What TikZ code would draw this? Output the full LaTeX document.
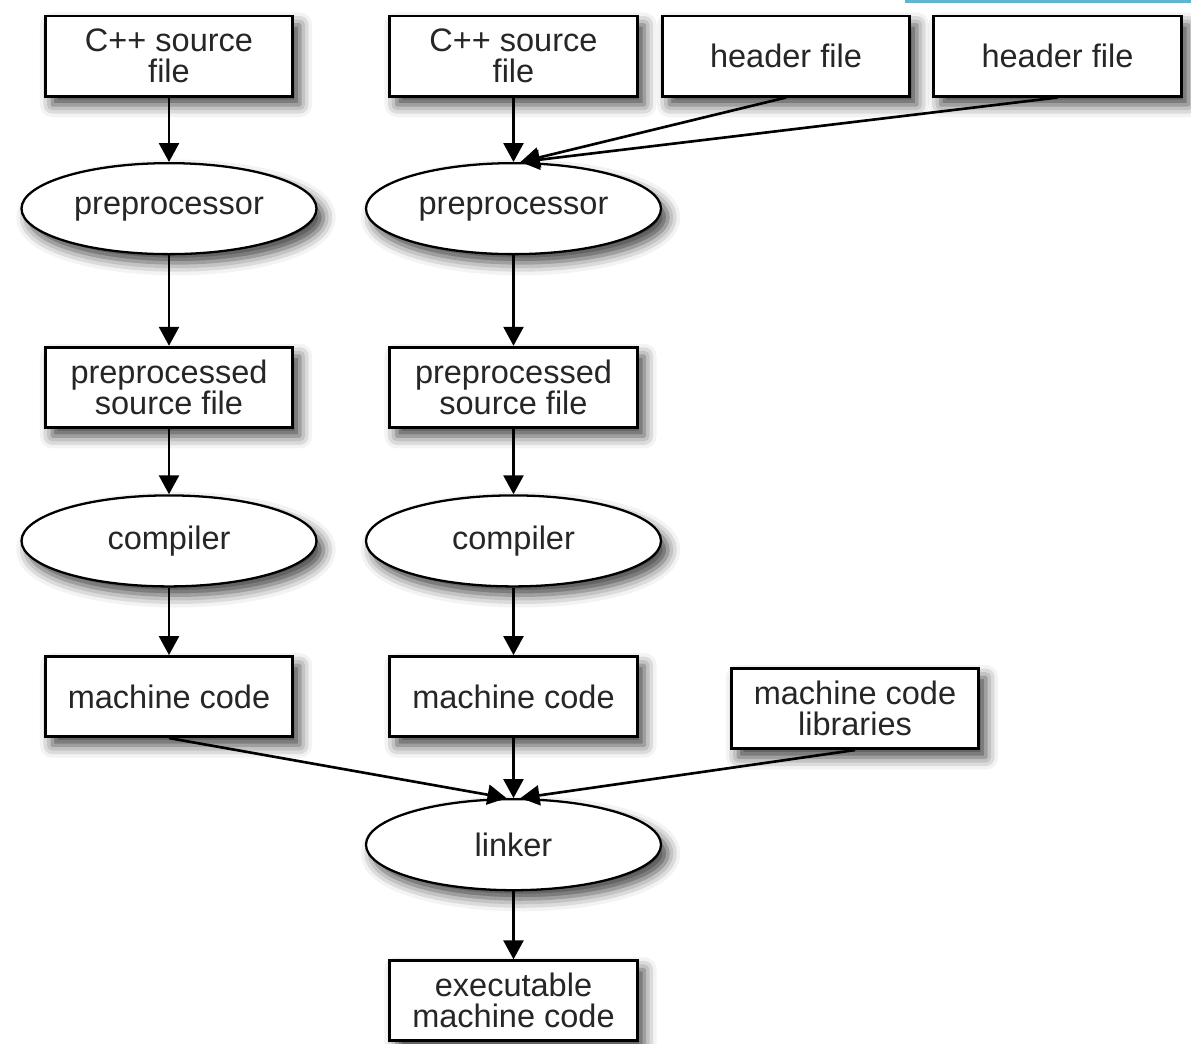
\documentclass[tikz,border=0pt]{standalone}
\usepackage{fontspec}
\setmainfont{Liberation Sans}
\usetikzlibrary{shapes.geometric, arrows.meta, positioning, shadows.blur}
\definecolor{topbar}{RGB}{95,180,210}
\tikzstyle{arrow} = [line width=1.5pt, -{Triangle[length=0.38cm, width=0.4cm]}]

\begin{document}
\begin{tikzpicture}[
		filebox/.style={rectangle, draw, line width=1.7pt, minimum width=4.95cm, minimum height=1.6cm, fill=white, align=center, inner sep=0pt, blur shadow={shadow xshift=4pt, shadow yshift=-5pt, shadow blur radius=7pt, shadow opacity=75}},
		tool/.style={ellipse, draw, line width=1.3pt, minimum width=5.9cm, minimum height=1.82cm, fill=white, inner sep=0pt, blur shadow={shadow xshift=4pt, shadow yshift=-5pt, shadow blur radius=7pt, shadow opacity=75}},
		node distance=1.3cm,
		font=\fontsize{18.5}{17.6}\selectfont,
		text=black!85
		]
		\useasboundingbox (0,0) rectangle (23.82,-20.86);
		\fill[topbar] (18.1,0) rectangle (23.82,-0.06);
		% first source file
		\node[filebox] (src1) at (3.38,-1.12) {C++ source\\file};
		\node[tool] (pre1) [below=1.29cm of src1] {preprocessor};
		\node[filebox] (pps1) [below=1.81cm of pre1] {preprocessed\\source file};
		\node[tool] (comp1) [below=1.31cm of pps1] {compiler};
		\node[filebox] (mc1) [below=1.35cm of comp1] {machine code};
		% second source file and headers
		\node[filebox] (src2) [right=1.88cm of src1] {C++ source\\file};
		\node[filebox] (hdr1) [right=0.44cm of src2] {header file};
		\node[filebox] (hdr2) [right=0.42cm of hdr1] {header file};
		\node[tool] (pre2) [below=1.29cm of src2] {preprocessor};
		\node[filebox] (pps2) [below=1.81cm of pre2] {preprocessed\\source file};
		\node[tool] (comp2) [below=1.31cm of pps2] {compiler};
		\node[filebox] (mc2) [below=1.35cm of comp2] {machine code};
		% linking
		\node[filebox] (libs) [right=1.82cm of mc2, yshift=-0.24cm] {machine code\\libraries};
		\node[tool] (linker) [below=1.2cm of mc2] {linker};
		\node[filebox] (exe) [below=1.36cm of linker] {executable\\machine code};

		\draw[arrow] (src1) -- (pre1);
		\draw[arrow] (pre1) -- (pps1);
		\draw[arrow] (pps1) -- (comp1);
		\draw[arrow] (comp1) -- (mc1);
		\draw[arrow] (src2) -- (pre2);
		\draw[arrow] (hdr1.south) -- ([xshift=4pt]pre2.north);
		\draw[arrow] (hdr2.south) -- ([xshift=4pt]pre2.north);
		\draw[arrow] (pre2) -- (pps2);
		\draw[arrow] (pps2) -- (comp2);
		\draw[arrow] (comp2) -- (mc2);
		\draw[arrow] (mc2) -- (linker);
		\draw[arrow] (mc1.south) -- ([xshift=-4pt]linker.north);
		\draw[arrow] (libs.south) -- ([xshift=4pt]linker.north);
		\draw[arrow] (linker) -- (exe);
	\end{tikzpicture}
\end{document}
